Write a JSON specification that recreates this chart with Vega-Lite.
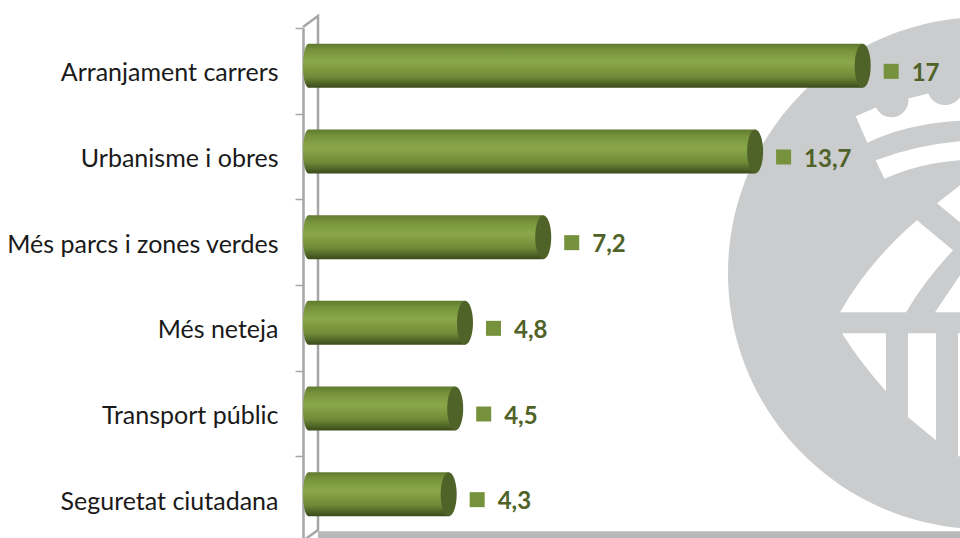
{
"$schema":"https://vega.github.io/schema/vega-lite/v6.json",
"width":657,"height":510,
"autosize":{"type":"none"},
"padding":{"left":303,"top":28,"right":0,"bottom":0},
"background":"#ffffff",
"config":{"view":{"stroke":null}},
"data":{"values":[
{"categoria":"Arranjament carrers","valor":17,"etiqueta":"17"},
{"categoria":"Urbanisme i obres","valor":13.7,"etiqueta":"13,7"},
{"categoria":"Més parcs i zones verdes","valor":7.2,"etiqueta":"7,2"},
{"categoria":"Més neteja","valor":4.8,"etiqueta":"4,8"},
{"categoria":"Transport públic","valor":4.5,"etiqueta":"4,5"},
{"categoria":"Seguretat ciutadana","valor":4.3,"etiqueta":"4,3"}
]},
"encoding":{
"y":{"field":"categoria","type":"nominal","title":null,
"scale":{"domain":["Arranjament carrers","Urbanisme i obres","Més parcs i zones verdes","Més neteja","Transport públic","Seguretat ciutadana"],"range":[0,514],"paddingInner":0,"paddingOuter":0},
"axis":{"domainColor":"#a6a6a6","domainWidth":2.5,"tickColor":"#a6a6a6","tickWidth":1.5,"tickSize":8,"tickBand":"extent","labelPadding":17,"labelFontSize":25,"labelFont":"Lato","labelColor":"#1a1a1a","labelLimit":300,"labelOffset":2,"grid":false}},
"x":{"field":"valor","type":"quantitative","title":null,"axis":null,"scale":{"domain":[-0.169,19.985],"nice":false,"zero":false}}
},
"layer":[
{"data":{"values":[{"categoria":"Més parcs i zones verdes","valor":19.985}]},
"mark":{"type":"point","filled":true,"opacity":1,"size":4,"color":"#cbcccd",
"shape":"M-232,31 A256,256 0 1 1 280,31 A256,256 0 1 1 -232,31 Z"}},
{"data":{"values":[{"categoria":"Més parcs i zones verdes","valor":19.985}]},
"mark":{"type":"point","filled":true,"opacity":1,"size":4,"color":"#ffffff",
"shape":"M-104.3,-126 L-84,-134.7 A17,17 0 0 0 -51.7,-143.7 L-31.7,-148.7 A18,18 0 0 0 0,-145 L0,-121.3 Q-55,-118 -92.7,-99.3 Z M-84.3,-82 Q-45,-97 0,-101 L0,-82 Q-42,-79 -75.7,-63.3 Z M-23,-39 L0,-57 L0,-20 Z M-43,-22 L-7,8 Q-35,38 -54,70 L-120,70 Q-90,18 -43,-22 Z M-25,70 L0,33 L0,70 Z M-118,91 L-74,91 L-74,149 Q-100,120 -118,91 Z M-52,91 L-24,91 L-24,198 L-52,175 Z M-2,91 L0,91 L0,214 L-2,214 Z"}},
{"data":{"values":[{"categoria":"Seguretat ciutadana","valor":0}]},
"mark":{"type":"point","filled":true,"opacity":1,"size":4,"color":"#b8b8b8",
"shape":"M9.5,32 L652,32 L652,40 L9.5,40 Z"}},
{"data":{"values":[{"categoria":"Arranjament carrers","valor":0}]},
"mark":{"type":"point","filled":false,"opacity":1,"size":4,"stroke":"#a6a6a6","strokeWidth":2.5,
"shape":"M-5.5,-43.8 L9.5,-54.8 L9.5,459.2 L-5.5,470"}},
{"mark":{"type":"bar","height":44,"yOffset":-5,"color":{"gradient":"linear","x1":0,"y1":0,"x2":0,"y2":1,"stops":[{"offset":0,"color":"#5f7a2e"},{"offset":0.15,"color":"#76933c"},{"offset":0.42,"color":"#8aa84a"},{"offset":0.75,"color":"#6e8a37"},{"offset":1,"color":"#3a4a1c"}]}},
"encoding":{"x2":{"datum":0}}},
{"mark":{"type":"point","filled":true,"opacity":1,"size":4,"yOffset":-5,"color":{"gradient":"linear","x1":0,"y1":0,"x2":0,"y2":1,"stops":[{"offset":0,"color":"#5f7a2e"},{"offset":0.15,"color":"#76933c"},{"offset":0.42,"color":"#8aa84a"},{"offset":0.75,"color":"#6e8a37"},{"offset":1,"color":"#3a4a1c"}]},
"shape":"M0,-22 A5.5,22 0 1 0 0,22 A5.5,22 0 1 0 0,-22 Z"},
"encoding":{"x":{"datum":0}}},
{"mark":{"type":"point","filled":true,"opacity":1,"size":4,"yOffset":-5,"color":"#4f6228",
"shape":"M0,-22 A8,22 0 1 1 0,22 A8,22 0 1 1 0,-22 Z"}},
{"mark":{"type":"point","shape":"square","filled":true,"opacity":1,"size":225,"xOffset":28.5,"yOffset":0.5,"color":"#76923c"}},
{"mark":{"type":"text","align":"left","baseline":"middle","dx":49,"dy":3,"font":"Lato","fontWeight":"bold","fontSize":24,"color":"#4f6228"},
"encoding":{"text":{"field":"etiqueta","type":"nominal"}}}
]
}
